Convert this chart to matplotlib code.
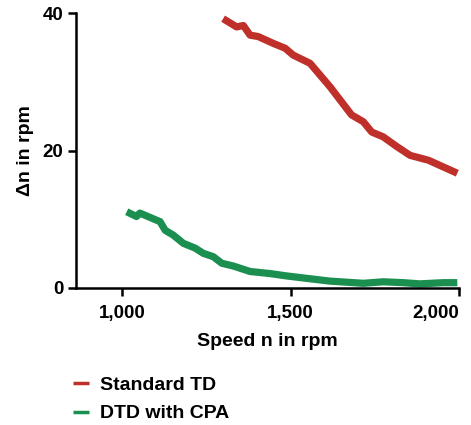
import matplotlib
matplotlib.use("Agg")
import matplotlib.pyplot as plt
from matplotlib.ticker import FuncFormatter

plt.rcParams['font.family'] = ['Liberation Sans', 'DejaVu Sans']
plt.rcParams['font.weight'] = 'bold'

# Standard TD
std_speed = [1300, 1320, 1340, 1360, 1380, 1404, 1449, 1484, 1508, 1558, 1617, 1681,
             1716, 1741, 1775, 1815, 1855, 1909, 1995]
std_delta = [39.2, 38.6, 38.0, 38.2, 36.8, 36.6, 35.6, 34.9, 33.9, 32.7, 29.3, 25.2,
             24.2, 22.7, 22.0, 20.6, 19.3, 18.6, 16.7]

# DTD with CPA
cpa_speed = [1014, 1043, 1053, 1113, 1128, 1152, 1182, 1217, 1241, 1271, 1296, 1330,
             1380, 1439, 1489, 1548, 1617, 1716, 1775, 1835, 1884, 1953, 1995]
cpa_delta = [11.1, 10.4, 10.9, 9.65, 8.4, 7.7, 6.5, 5.8, 5.05, 4.55, 3.6, 3.2,
             2.4, 2.1, 1.75, 1.4, 1.0, 0.68, 0.9, 0.77, 0.6, 0.77, 0.77]

red = '#c0302a'
green = '#1a8f50'

fig = plt.figure(figsize=(4.71, 4.25), dpi=100)
ax = fig.add_axes([0.1614, 0.3224, 0.8131, 0.6466])

ax.plot(std_speed, std_delta, color=red, lw=5.2, solid_capstyle='butt', label='Standard TD')
ax.plot(cpa_speed, cpa_delta, color=green, lw=5.2, solid_capstyle='butt', label='DTD with CPA')

ax.set_xlim(863.5, 2000)
ax.set_ylim(0, 40)
ax.set_xticks([1000, 1500, 2000])
ax.set_yticks([0, 20, 40])
ax.xaxis.set_major_formatter(FuncFormatter(lambda v, p: f'{int(v):,}'))

for s in ['top', 'right']:
    ax.spines[s].set_visible(False)
for s in ['left', 'bottom']:
    ax.spines[s].set_linewidth(1.8)
ax.tick_params(width=1.8, length=6, labelsize=13.5, pad=6)
ax.tick_params(axis='y', pad=3)
ax.get_xticklabels()[-1].set_horizontalalignment('right')
ax.get_xticklabels()[-1].set_x(2000)

ax.set_xlabel('Speed n in rpm', fontsize=14, fontweight='bold', labelpad=8)
ax.set_ylabel('Δn in rpm', fontsize=14, fontweight='bold', labelpad=6)

fig.legend(loc='upper left', bbox_to_anchor=(0.134, 0.137), frameon=False,
           fontsize=14, handlelength=0.85, handletextpad=0.55, labelspacing=0.55,
           borderpad=0)
for line in fig.legends[0].get_lines():
    line.set_linewidth(2.5)

fig.savefig('out.png', dpi=100)
